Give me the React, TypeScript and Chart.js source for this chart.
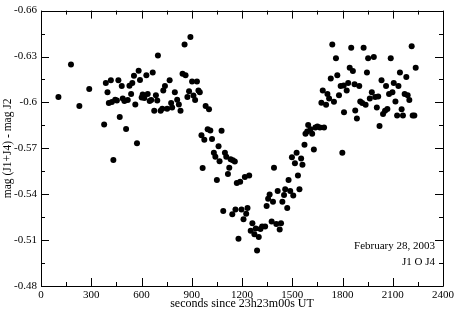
import React, { useEffect, useRef } from "react";
import { Chart, registerables } from "chart.js";

Chart.register(...registerables);

const timeSec = [
  104, 179, 229, 288, 377, 387, 397, 405, 417, 423, 432, 443, 453, 462, 470, 482, 488, 498, 508, 518,
  528, 538, 545, 555, 563, 573, 583, 591, 601, 607, 617, 629, 637, 649, 658, 667, 676, 686, 694, 698,
  714, 724, 730, 740, 753, 768, 777, 783, 799, 813, 823, 833, 845, 857, 863, 874, 884, 892, 902, 910,
  920, 931, 940, 948, 958, 965, 975, 983, 995, 1003, 1011, 1021, 1032, 1041, 1050, 1060, 1066, 1078, 1088, 1098,
  1106, 1116, 1124, 1132, 1142, 1145, 1157, 1161, 1169, 1179, 1189, 1197, 1209, 1217, 1225, 1233, 1243, 1252, 1262, 1274,
  1282, 1290, 1300, 1310, 1320, 1338, 1347, 1356, 1365, 1377, 1385, 1391, 1405, 1413, 1425, 1433, 1441, 1451, 1458, 1470,
  1478, 1488, 1498, 1506, 1516, 1526, 1534, 1543, 1553, 1561, 1573, 1579, 1589, 1595, 1609, 1619, 1629, 1638, 1650, 1665,
  1674, 1682, 1690, 1702, 1710, 1720, 1730, 1739, 1749, 1761, 1769, 1779, 1789, 1799, 1807, 1809, 1825, 1834, 1843, 1852,
  1862, 1872, 1876, 1886, 1900, 1906, 1918, 1926, 1938, 1946, 1953, 1963, 1975, 1987, 1995, 2005, 2013, 2021, 2033, 2042,
  2054, 2060, 2068, 2078, 2088, 2098, 2106, 2116, 2126, 2134, 2143, 2153, 2161, 2171, 2181, 2189, 2199, 2213, 2219, 2229,
  2237,
];

const magDiff = [
  -0.6036, -0.6248, -0.5977, -0.6088, -0.5855, -0.6126, -0.6066, -0.5996, -0.6145, -0.6002, -0.5624, -0.6017, -0.6013, -0.6145, -0.5904, -0.6107, -0.6025, -0.6009, -0.5826, -0.6015,
  -0.6109, -0.6055, -0.6126, -0.6175, -0.5987, -0.5733, -0.6207, -0.6147, -0.6032, -0.6051, -0.6028, -0.6177, -0.6055, -0.6009, -0.6015, -0.6196, -0.5945, -0.6047, -0.6013, -0.6307,
  -0.5945, -0.5959, -0.6077, -0.6107, -0.5959, -0.6145, -0.5996, -0.5966, -0.6066, -0.6017, -0.5987, -0.5945, -0.6188, -0.6378, -0.6177, -0.6036, -0.6073, -0.6427, -0.6137, -0.6045,
  -0.6015, -0.6137, -0.6077, -0.6066, -0.5785, -0.5571, -0.5756, -0.5977, -0.5825, -0.5955, -0.5817, -0.5761, -0.5671, -0.5644, -0.5492, -0.5714, -0.5615, -0.5814, -0.5291, -0.5671,
  -0.5644, -0.5532, -0.5573, -0.5628, -0.5269, -0.5622, -0.5613, -0.53, -0.5473, -0.5109, -0.5481, -0.53, -0.5237, -0.5513, -0.5272, -0.531, -0.5522, -0.5161, -0.521, -0.5139,
  -0.5176, -0.5032, -0.512, -0.5173, -0.5189, -0.5189, -0.5323, -0.537, -0.5398, -0.5221, -0.5351, -0.5573, -0.5205, -0.5421, -0.517, -0.521, -0.5351, -0.5394, -0.5432, -0.531,
  -0.5492, -0.5421, -0.5641, -0.5391, -0.5603, -0.5671, -0.5522, -0.5432, -0.5633, -0.5592, -0.5724, -0.5795, -0.581, -0.5852, -0.5825, -0.5795, -0.5692, -0.5836, -0.5842, -0.5836,
  -0.5998, -0.6077, -0.5836, -0.5985, -0.6055, -0.6025, -0.6156, -0.6378, -0.6004, -0.6288, -0.6177, -0.6047, -0.6107, -0.5671, -0.6111, -0.5936, -0.6077, -0.6126, -0.6227, -0.6358,
  -0.6205, -0.6118, -0.5947, -0.5895, -0.6107, -0.6006, -0.5996, -0.6358, -0.5985, -0.6196, -0.6288, -0.6025, -0.6066, -0.6297, -0.6036, -0.5966, -0.6038, -0.5846, -0.6145, -0.5925,
  -0.5945, -0.6107, -0.5957, -0.6055, -0.6288, -0.6066, -0.6126, -0.6006, -0.5915, -0.6107, -0.6196, -0.5955, -0.5915, -0.6055, -0.6166, -0.6047, -0.6015, -0.6367, -0.5915, -0.5915,
  -0.6227,
];

const xTicks = [0, 300, 600, 900, 1200, 1500, 1800, 2100, 2400];
const yTicks = [-0.66, -0.63, -0.6, -0.57, -0.54, -0.51, -0.48];
const xTitle = "seconds since 23h23m00s UT";
const yTitle = "mag (J1+J4) - mag J2";
const noteLines = ["February 28, 2003", "J1 O J4"];

const FONT = "'Liberation Serif', 'Times New Roman', serif";

const frameAndTicks = {
  id: "frameAndTicks",
  afterDraw(chart: any) {
    const { ctx, chartArea: a, scales } = chart;
    const xs = scales.x;
    const ys = scales.y;
    ctx.save();
    ctx.strokeStyle = "#000";
    ctx.lineWidth = 1;
    ctx.beginPath();
    ctx.rect(Math.round(a.left) + 0.5, Math.round(a.top) + 0.5, Math.round(a.right - a.left), Math.round(a.bottom - a.top));
    ctx.stroke();

    const seg = (x1: number, y1: number, x2: number, y2: number) => {
      ctx.beginPath();
      ctx.moveTo(x1, y1);
      ctx.lineTo(x2, y2);
      ctx.stroke();
    };
    const xAll: [number, boolean][] = [];
    xTicks.forEach((v, i) => {
      xAll.push([v, true]);
      if (i < xTicks.length - 1) xAll.push([(v + xTicks[i + 1]) / 2, false]);
    });
    xAll.forEach(([v, major]) => {
      const px = Math.round(xs.getPixelForValue(v)) + 0.5;
      const len = major ? 8 : 4;
      seg(px, a.bottom, px, a.bottom - len);
      seg(px, a.top, px, a.top + len);
    });
    const yAll: [number, boolean][] = [];
    yTicks.forEach((v, i) => {
      yAll.push([v, true]);
      if (i < yTicks.length - 1) yAll.push([(v + yTicks[i + 1]) / 2, false]);
    });
    yAll.forEach(([v, major]) => {
      const py = Math.round(ys.getPixelForValue(v)) + 0.5;
      const len = major ? 8 : 4;
      seg(a.left, py, a.left + len, py);
      seg(a.right, py, a.right - len, py);
    });

    ctx.fillStyle = "#000";
    ctx.font = `11px ${FONT}`;
    ctx.textAlign = "right";
    ctx.textBaseline = "middle";
    ctx.fillText(noteLines[0], a.right - 8, a.bottom - 40);
    ctx.fillText(noteLines[1], a.right - 8, a.bottom - 24);
    ctx.restore();
  },
};

export default function App() {
  const ref = useRef<HTMLCanvasElement | null>(null);
  useEffect(() => {
    document.body.style.margin = "0";
    const canvas = ref.current;
    if (!canvas) return;
    const chart = new Chart(canvas, {
      type: "scatter",
      data: {
        datasets: [
          {
            data: timeSec.map((t, i) => ({ x: t, y: magDiff[i] })),
            backgroundColor: "#000",
            borderColor: "#000",
            pointRadius: 3,
            pointBorderWidth: 0,
          },
        ],
      },
      options: {
        animation: false,
        responsive: false,
        events: [],
        layout: { padding: { top: 5, right: 12, left: 0, bottom: 0 } },
        plugins: { legend: { display: false }, tooltip: { enabled: false } },
        scales: {
          x: {
            type: "linear",
            min: 0,
            max: 2400,
            afterFit: (s: any) => {
              s.height = 25;
            },
            afterBuildTicks: (s: any) => {
              s.ticks = xTicks.map((v) => ({ value: v }));
            },
            grid: { display: false, drawTicks: false },
            border: { display: false },
            ticks: {
              color: "#000",
              font: { family: FONT, size: 11 },
              padding: 3,
              maxRotation: 0,
              callback: (v: any) => String(v),
            },
            title: {
              display: true,
              text: xTitle,
              color: "#000",
              font: { family: FONT, size: 12 },
              padding: { top: -3, bottom: 0 },
            },
          },
          y: {
            type: "linear",
            min: -0.66,
            max: -0.48,
            reverse: true,
            afterFit: (s: any) => {
              s.width = 41;
            },
            afterBuildTicks: (s: any) => {
              s.ticks = yTicks.map((v) => ({ value: v }));
            },
            grid: { display: false, drawTicks: false },
            border: { display: false },
            ticks: {
              color: "#000",
              font: { family: FONT, size: 11 },
              padding: 4,
              callback: (v: any) => String(Number(Number(v).toFixed(2))),
            },
            title: {
              display: true,
              text: yTitle,
              color: "#000",
              font: { family: FONT, size: 11.5 },
              padding: { top: 1.5, bottom: 0 },
            },
          },
        },
      },
      plugins: [frameAndTicks],
    });
    return () => chart.destroy();
  }, []);
  return (
    <div style={{ width: 457, height: 311 }}>
      <canvas ref={ref} width={457} height={311} style={{ display: "block" }} />
    </div>
  );
}
